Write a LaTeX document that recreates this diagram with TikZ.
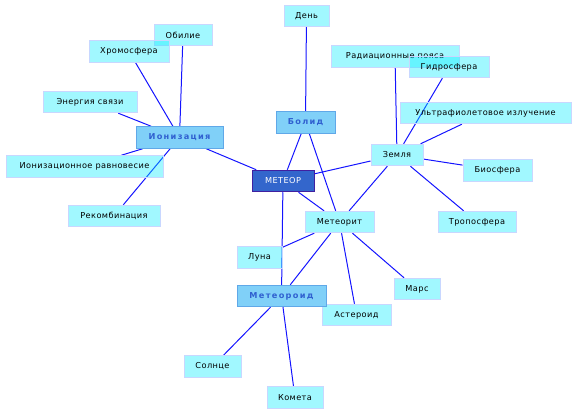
\documentclass[tikz,border=0pt]{standalone}
\usepackage{fontspec}
\usetikzlibrary{backgrounds}
\setmainfont{DejaVu Sans}
\newfontfamily\hdfont[LetterSpace=16]{DejaVu Sans}
\newfontfamily\plfont[LetterSpace=5]{DejaVu Sans}
\definecolor{boxfill}{RGB}{0,236,255}
\definecolor{boxdraw}{RGB}{200,215,255}
\definecolor{hdfill}{RGB}{128,208,248}
\definecolor{hddraw}{RGB}{96,168,232}
\definecolor{hdtext}{RGB}{48,96,208}
\definecolor{mfill}{RGB}{51,102,204}
\definecolor{mdraw}{RGB}{64,32,160}
\definecolor{edgecol}{RGB}{20,20,255}
\tikzset{
  leaf/.style={draw=boxdraw, line width=0.9pt, fill=boxfill, fill opacity=0.37, text opacity=1,
    minimum height=21.5pt, inner sep=0pt, font=\plfont\fontsize{8.2}{10}\selectfont},
  hub/.style={draw=hddraw, line width=0.9pt, fill=hdfill, text=hdtext,
    minimum height=21.5pt, inner sep=0pt, font=\hdfont\bfseries\fontsize{8.2}{10}\selectfont},
  root/.style={draw=mdraw, line width=1pt, fill=mfill, text=white,
    minimum height=21.5pt, inner sep=0pt, font=\plfont\fontsize{8.2}{10}\selectfont},
  link/.style={draw=edgecol, line width=1pt}
}
\begin{document}
\begin{tikzpicture}[x=1pt,y=-1pt]
\useasboundingbox (0,0) rectangle (576,414);
\path
  (306.5,16) node[leaf, minimum width=45pt] (den) {День}
  (183,35) node[leaf, minimum width=58pt] (obil) {Обилие}
  (129,51.5) node[leaf, minimum width=80pt] (chrom) {Хромосфера}
  (90,102) node[leaf, minimum width=94pt] (energ) {Энергия связи}
  (179.5,137.5) node[hub, minimum width=87pt] (ioniz) {Ионизация}
  (84.5,166.5) node[leaf, minimum width=157pt] (ionrav) {Ионизационное равновесие}
  (114,216) node[leaf, minimum width=92pt] (rekomb) {Рекомбинация}
  (283,181) node[root, minimum width=62pt] (meteor) {МЕТЕОР}
  (305.5,122.5) node[hub, minimum width=59pt] (bolid) {Болид}
  (395,56.5) node[leaf, minimum width=128pt] (radp) {Радиационные пояса}
  (449,67) node[leaf, minimum width=80pt] (gidro) {Гидросфера}
  (485.5,113) node[leaf, minimum width=171pt] (uf) {Ультрафиолетовое излучение}
  (397,155) node[leaf, minimum width=52pt] (zem) {Земля}
  (497.5,170.5) node[leaf, minimum width=69pt] (bio) {Биосфера}
  (477,222) node[leaf, minimum width=78pt] (tropo) {Тропосфера}
  (339.5,222) node[leaf, minimum width=69pt] (mrit) {Метеорит}
  (417,289) node[leaf, minimum width=46pt] (mars) {Марс}
  (356.5,315) node[leaf, minimum width=69pt] (aster) {Астероид}
  (259.5,257.5) node[leaf, minimum width=45pt] (luna) {Луна}
  (281.5,296) node[hub, minimum width=89pt] (mroid) {Метеороид}
  (212.5,366.5) node[leaf, minimum width=57pt] (sun) {Солнце}
  (295,397.5) node[leaf, minimum width=56pt] (comet) {Комета};
\begin{pgfonlayer}{background}
\draw[link] (ioniz) -- (obil);
\draw[link] (ioniz) -- (chrom);
\draw[link] (ioniz) -- (energ);
\draw[link] (ioniz) -- (ionrav);
\draw[link] (ioniz) -- (rekomb);
\draw[link] (ioniz) -- (meteor);
\draw[link] (bolid) -- (den);
\draw[link] (bolid) -- (meteor);
\draw[link] (bolid) -- (mrit);
\draw[link] (meteor) -- (zem);
\draw[link] (meteor) -- (mrit);
\draw[link] (meteor) -- (mroid);
\draw[link] (zem) -- (radp);
\draw[link] (zem) -- (gidro);
\draw[link] (zem) -- (uf);
\draw[link] (zem) -- (bio);
\draw[link] (zem) -- (tropo);
\draw[link] (zem) -- (mrit);
\draw[link] (mrit) -- (luna);
\draw[link] (mrit) -- (mroid);
\draw[link] (mrit) -- (aster);
\draw[link] (mrit) -- (mars);
\draw[link] (mroid) -- (sun);
\draw[link] (mroid) -- (comet);
\end{pgfonlayer}
\end{tikzpicture}
\end{document}
